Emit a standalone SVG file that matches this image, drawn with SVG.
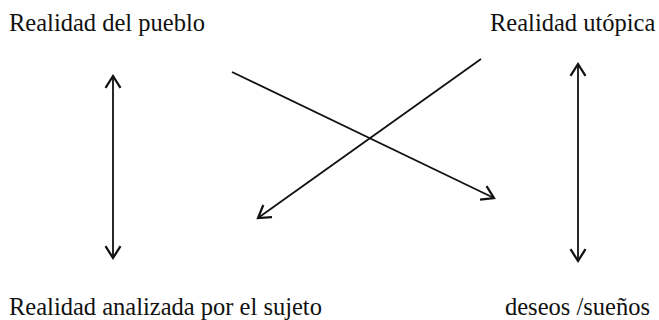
<svg xmlns="http://www.w3.org/2000/svg" width="659" height="320" viewBox="0 0 659 320">
<style>
.lbl{font-family:"Liberation Serif","Times New Roman",serif;font-size:24.5px;fill:#111}
.conn{stroke:#111;stroke-width:1.8;fill:none}
</style>
<defs>
<marker id="ah" markerUnits="userSpaceOnUse" markerWidth="20" markerHeight="20" refX="0" refY="0" viewBox="-12 -8 14 16" orient="auto-start-reverse" overflow="visible">
<path d="M-9.5,-6 L0,0 L-9.5,6" fill="none" stroke="#111" stroke-width="1.8" stroke-linejoin="miter"/>
</marker>
</defs>
<rect width="659" height="320" fill="#fff"/>
<g id="n1"><text class="lbl" x="9" y="31">Realidad del pueblo</text></g>
<g id="n2"><text class="lbl" x="490" y="31">Realidad utópica</text></g>
<g id="n3"><text class="lbl" x="9" y="315">Realidad analizada por el sujeto</text></g>
<g id="n4"><text class="lbl" x="505" y="315">deseos /sueños</text></g>
<g id="connectors">
<line class="conn" x1="113" y1="76" x2="113" y2="258" marker-start="url(#ah)" marker-end="url(#ah)"/>
<line class="conn" x1="578" y1="64" x2="578" y2="261" marker-start="url(#ah)" marker-end="url(#ah)"/>
<line class="conn" x1="232" y1="72" x2="494" y2="198" marker-end="url(#ah)"/>
<line class="conn" x1="481" y1="59" x2="258" y2="218" marker-end="url(#ah)"/>
</g>
</svg>
